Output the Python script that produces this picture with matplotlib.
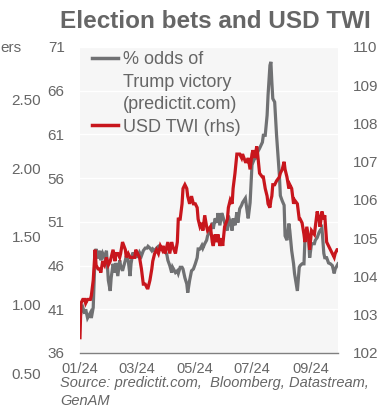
import numpy as np
import pandas as pd
import matplotlib
matplotlib.use("Agg")
import matplotlib.pyplot as plt
import matplotlib.dates as mdates
from matplotlib.lines import Line2D

plt.rcParams['font.family'] = ['Liberation Sans', 'DejaVu Sans']

# days since 1 Jan 2024
days = [0, 1, 3, 5, 6, 8, 11, 12, 14, 16,
        17, 19, 21, 22, 24, 26, 28, 30, 32, 33,
        35, 37, 38, 40, 42, 43, 45, 48, 49, 51,
        53, 54, 56, 58, 59, 61, 63, 65, 67, 69,
        71, 72, 74, 76, 77, 79, 81, 83, 85, 87,
        88, 90, 92, 93, 95, 97, 98, 101, 103, 104,
        106, 108, 109, 111, 113, 114, 116, 118, 120, 122,
        124, 125, 127, 129, 130, 132, 134, 135, 138, 140,
        141, 143, 145, 146, 148, 150, 151, 153, 156, 157,
        159, 161, 162, 164, 166, 167, 169, 171, 172, 175,
        177, 178, 180, 182, 183, 185, 187, 188, 190, 193,
        194, 196, 198, 199, 201, 202, 203, 204, 206, 208,
        211, 212, 214, 216, 217, 219, 221, 222, 224, 226,
        227, 230, 232, 233, 235, 237, 238, 240, 242, 243,
        245, 248, 249, 251, 253, 254, 256, 258, 259, 261,
        263, 265, 267, 269, 270, 272, 273]

# % odds of Trump victory (lhs)
trump_odds = [40.0, 40.6, 41.2, 40.5, 41.0, 40.0, 40.6, 40.0, 41.2, 47.5,
              47.9, 46.8, 47.7, 46.6, 47.4, 46.9, 47.7, 44.3, 43.1, 44.6,
              46.2, 45.2, 46.3, 44.8, 46.6, 46.0, 45.4, 46.6, 47.1, 46.6,
              44.8, 46.2, 47.5, 46.9, 47.7, 46.9, 47.5, 47.1, 47.7, 48.0,
              48.0, 48.2, 48.0, 47.7, 47.9, 47.7, 48.0, 48.2, 48.0, 48.0,
              47.9, 47.7, 47.2, 46.6, 46.0, 45.2, 45.8, 45.2, 45.4, 45.1,
              45.8, 45.8, 45.6, 44.6, 43.9, 42.9, 44.3, 45.4, 45.6, 46.2,
              46.9, 47.9, 47.9, 48.3, 48.0, 48.5, 48.9, 49.4, 50.0, 50.9,
              50.2, 51.4, 50.9, 52.0, 50.6, 52.0, 51.7, 50.9, 50.0, 51.7,
              50.9, 50.0, 51.4, 50.6, 52.1, 50.9, 52.5, 52.9, 53.2, 53.7,
              52.1, 51.4, 53.2, 57.5, 57.8, 58.3, 58.3, 59.0, 59.4, 60.1,
              60.9, 60.9, 63.2, 65.5, 68.9, 69.3, 67.0, 65.1, 64.7, 60.9,
              56.3, 54.0, 53.4, 52.9, 49.4, 48.9, 50.8, 50.0, 47.7, 46.2,
              45.1, 43.1, 45.8, 46.0, 46.2, 46.2, 48.9, 49.2, 48.9, 46.9,
              48.5, 48.5, 48.9, 49.2, 49.8, 50.0, 50.3, 47.4, 46.9, 46.9,
              46.3, 46.2, 46.0, 45.1, 45.6, 46.0, 46.2]

# USD trade-weighted index (rhs)
usd_twi = [102.4, 103.3, 103.4, 103.4, 103.3, 103.4, 103.4, 103.5, 103.9, 104.7,
           104.3, 104.2, 104.2, 104.1, 104.4, 104.3, 104.5, 104.3, 104.4, 104.5,
           104.7, 104.4, 104.6, 104.6, 104.5, 104.6, 104.9, 104.7, 104.5, 104.6,
           104.5, 104.5, 104.5, 104.5, 104.7, 104.6, 104.5, 104.2, 103.8, 103.8,
           103.7, 103.7, 103.9, 104.2, 104.4, 104.6, 104.7, 104.6, 104.8, 104.7,
           104.8, 104.6, 104.8, 104.9, 104.6, 104.9, 104.8, 104.6, 104.9, 105.5,
           105.5, 105.9, 106.3, 106.4, 106.3, 106.1, 105.9, 106.1, 105.9, 105.9,
           105.8, 105.5, 105.3, 105.4, 105.2, 105.6, 105.3, 105.2, 105.3, 104.9,
           104.8, 105.1, 104.9, 105.1, 104.8, 105.0, 104.8, 105.3, 105.5, 105.8,
           106.0, 105.9, 106.3, 106.7, 107.2, 107.2, 107.2, 107.1, 107.2, 107.0,
           107.0, 107.1, 106.8, 107.2, 107.3, 107.1, 107.4, 107.2, 106.7, 106.6,
           106.6, 106.3, 106.1, 105.9, 105.8, 106.0, 106.1, 106.4, 106.4, 106.5,
           106.6, 106.7, 106.8, 107.0, 106.8, 106.6, 106.3, 106.4, 106.3, 105.9,
           106.0, 105.9, 105.5, 105.5, 105.4, 105.1, 104.9, 105.3, 105.0, 104.7,
           105.2, 105.1, 105.3, 105.7, 105.5, 105.3, 105.7, 105.5, 105.6, 104.9,
           104.8, 104.7, 104.6, 104.5, 104.6, 104.7, 104.7]

left_ticks = [36, 41, 46, 51, 56, 61, 66, 71]
right_ticks = [102, 103, 104, 105, 106, 107, 108, 109, 110]
extra_ticks = [0.50, 1.00, 1.50, 2.00, 2.50]

dates = pd.Timestamp("2024-01-01") + pd.to_timedelta(days, unit="D")

txt = '#666666'
gray = '#707173'
red = '#c8161d'

fig = plt.figure(figsize=(3.82, 4.17), dpi=100)

# leftover axis on the far left
ax3 = fig.add_axes([0.1152, 0.1055, 0.01, 0.6547])
ax3.set_ylim(0.5, 2.5)
ax3.set_yticks(extra_ticks)
ax3.set_yticklabels([f"{t:.2f}" for t in extra_ticks])
ax3.tick_params(axis='y', length=0, pad=2, labelsize=11, labelcolor=txt)
ax3.set_xticks([])
ax3.patch.set_visible(False)
for s in ax3.spines.values():
    s.set_visible(False)
fig.text(0.0, 1 - 48 / 417, "ers", fontsize=11, color=txt, ha='left', va='center')

ax = fig.add_axes([0.2094, 0.1535, 0.6754, 0.7338])
ax.set_facecolor('#f6f6f6')
ax.plot(dates, trump_odds, color=gray, linewidth=2.3, solid_joinstyle='miter')
ax.set_ylim(36, 71)
ax.set_yticks(left_ticks)
ax.grid(axis='y', color='white', linewidth=1.0)
ax.set_axisbelow(True)
ax.set_xlim(dates[0], dates[-1])
ax.xaxis.set_major_locator(mdates.MonthLocator(bymonth=[1, 3, 5, 7, 9]))
ax.xaxis.set_major_formatter(mdates.DateFormatter('%m/%y'))
ax.tick_params(axis='y', length=0, pad=11, labelsize=11, labelcolor=txt)
ax.tick_params(axis='x', length=0, pad=6.5, labelsize=10.5, labelcolor=txt)
for k in ['top', 'left', 'right']:
    ax.spines[k].set_visible(False)
ax.spines['bottom'].set_color('#808080')
ax.spines['bottom'].set_linewidth(1.0)

ax2 = ax.twinx()
ax2.plot(dates, usd_twi, color=red, linewidth=2.3, solid_joinstyle='miter')
ax2.set_ylim(102, 110)
ax2.set_yticks(right_ticks)
ax2.tick_params(axis='y', length=0, pad=11, labelsize=11, labelcolor=txt)
for s in ax2.spines.values():
    s.set_visible(False)

handles = [Line2D([], [], color=gray, linewidth=2.5),
           Line2D([], [], color='none'),
           Line2D([], [], color='none'),
           Line2D([], [], color=red, linewidth=2.5)]
labels = ["% odds of", "Trump victory", "(predictit.com)", "USD TWI (rhs)"]
leg = ax2.legend(handles, labels, loc='upper left', bbox_to_anchor=(0.241, 0.877),
                 bbox_transform=fig.transFigure, frameon=False, fontsize=13,
                 handlelength=1.45, handletextpad=0.25, labelspacing=0.3,
                 borderpad=0, borderaxespad=0)
for t in leg.get_texts():
    t.set_color(txt)

fig.text(0.563, 1 - 22 / 417, "Election bets and USD TWI", fontsize=17.5,
         fontweight='bold', color=txt, ha='center', va='center')
fig.text(0.157, 1 - 383 / 417, "Source: predictit.com,  Bloomberg, Datastream,",
         fontsize=10.5, style='italic', color=txt, ha='left', va='center')
fig.text(0.157, 1 - 401 / 417, "GenAM", fontsize=10.5, style='italic',
         color=txt, ha='left', va='center')

fig.savefig("out.png", dpi=100)
